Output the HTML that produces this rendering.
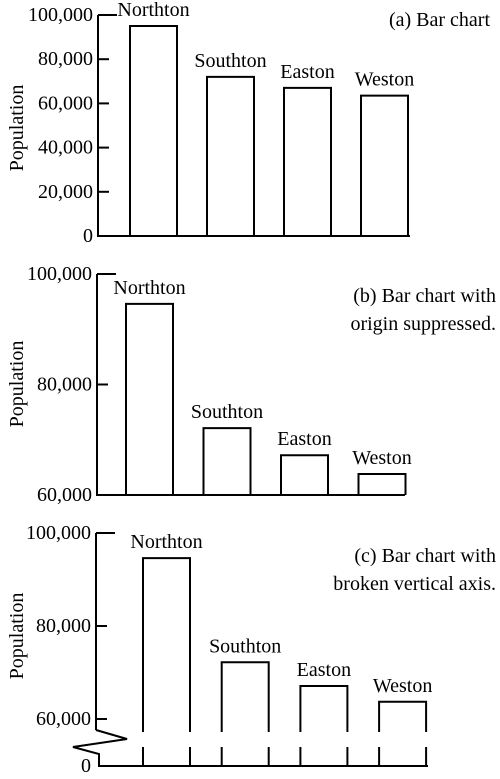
<!DOCTYPE html>
<html><head><meta charset="utf-8"><style>
html,body{margin:0;padding:0;background:#fff;}
svg{display:block;font-family:"Liberation Serif",serif;}
</style></head><body>
<svg id="chart" width="500" height="779" viewBox="0 0 500 779"></svg>
<script>
const categories = ["Northton","Southton","Easton","Weston"];
const valuesA = [95000, 72000, 67000, 63500];
const valuesB = [94600, 72100, 67200, 63800];
const valuesC = [94600, 72200, 67100, 63700];
const ticksA = [0,20000,40000,60000,80000,100000];
const ticksB = [60000,80000,100000];
const ticksC = [60000,80000,100000];
const tickLabelsA = ["0","20,000","40,000","60,000","80,000","100,000"];
const tickLabelsB = ["60,000","80,000","100,000"];
const tickLabelsC = ["60,000","80,000","100,000"];

const svg = document.getElementById('chart');
const NS = 'http://www.w3.org/2000/svg';
function mk(tag, attrs, parent){
  const e = document.createElementNS(NS, tag);
  for (const k in attrs) e.setAttribute(k, attrs[k]);
  (parent||svg).appendChild(e);
  return e;
}
const S = {stroke:'#000','stroke-width':2,fill:'none'};

function panel(cfg){
  const g = mk('g',{});
  
  
  const y = v => cfg.y0 - (v - cfg.vmin) * (cfg.y0 - cfg.y1) / (cfg.vmax - cfg.vmin);
  const ax = mk('line',{x1:cfg.ax,y1:y(cfg.vmax),x2:cfg.ax,y2:cfg.axisBottom,...S},g);
  
  
  cfg.ticks.forEach((t,i)=>{
    const ty = y(t);
    const isTop = t === cfg.vmax;
    const tl = mk('line',{x1:cfg.ax, y1:ty, x2: isTop ? cfg.ax+19 : cfg.ax+11, y2:ty, ...S},g);
    
    
    const tx = mk('text',{x:cfg.ax-5,y:ty+6,'font-size':20,'text-anchor':'end',fill:'#000'},g);
    tx.textContent = cfg.tickLabels[i];
    
    
  });
  const bl = mk('line',{x1:cfg.baseX1,y1:cfg.baseY,x2:cfg.baseX2,y2:cfg.baseY,...S},g);
  
  
  categories.forEach((c,i)=>{
    const x0 = cfg.barX0 + i*cfg.barStep, w = cfg.barW;
    const top = y(cfg.values[i]);
    let p;
    if (cfg.breakTop){
      p = mk('path',{d:`M${x0},${cfg.breakTop} V${top} H${x0+w} V${cfg.breakTop} M${x0},${cfg.breakBot} V${cfg.baseY} M${x0+w},${cfg.breakBot} V${cfg.baseY}`,...S},g);
    } else {
      p = mk('path',{d:`M${x0},${cfg.baseY} V${top} H${x0+w} V${cfg.baseY}`,...S},g);
    }
    
    
    const t = mk('text',{x:x0+w/2,y:top-10,'font-size':20,'text-anchor':'middle',fill:'#000'},g);
    t.textContent = c;
    
    
  });
  const cy = cfg.titleY;
  const yt = mk('text',{x:23,y:cy,'font-size':20,'text-anchor':'middle',fill:'#000',transform:`rotate(-90 23 ${cy})`},g);
  yt.textContent = 'Population';
  
  
  cfg.caption.forEach((line,i)=>{
    const ct = mk('text',{x:cfg.capX,y:cfg.capY+i*28,'font-size':20,'text-anchor':'end',fill:'#000'},g);
    ct.textContent = line;
    
    
  });
  return {g,y};
}

panel({name:'panel-a', ax:98, y0:236, y1:15, vmin:0, vmax:100000, axisBottom:237,
  ticks:ticksA, tickLabels:tickLabelsA, baseX1:97, baseX2:410, baseY:236,
  values:valuesA, barX0:130, barStep:77, barW:47, titleY:128,
  caption:['(a) Bar chart'], capX:490, capY:26});

panel({name:'panel-b', ax:97, y0:495, y1:274, vmin:60000, vmax:100000, axisBottom:496,
  ticks:ticksB, tickLabels:tickLabelsB, baseX1:96, baseX2:405, baseY:495,
  values:valuesB, barX0:126, barStep:77.5, barW:47, titleY:384,
  caption:['(b) Bar chart with','origin suppressed.'], capX:496, capY:302});

const pc = panel({name:'panel-c', ax:96, y0:719, y1:533, vmin:60000, vmax:100000, axisBottom:730,
  ticks:ticksC, tickLabels:tickLabelsC, baseX1:98, baseX2:428, baseY:766,
  values:valuesC, barX0:143, barStep:78.7, barW:47, titleY:636,
  breakTop:732, breakBot:747,
  caption:['(c) Bar chart with','broken vertical axis.'], capX:496, capY:562});
const zz = mk('path',{d:'M96,730 L127,739 L73,747 L99,754 V766',...S},pc.g);


const z0 = mk('text',{x:91,y:772,'font-size':20,'text-anchor':'end',fill:'#000'},pc.g);
z0.textContent = '0';


</script>
</body></html>
